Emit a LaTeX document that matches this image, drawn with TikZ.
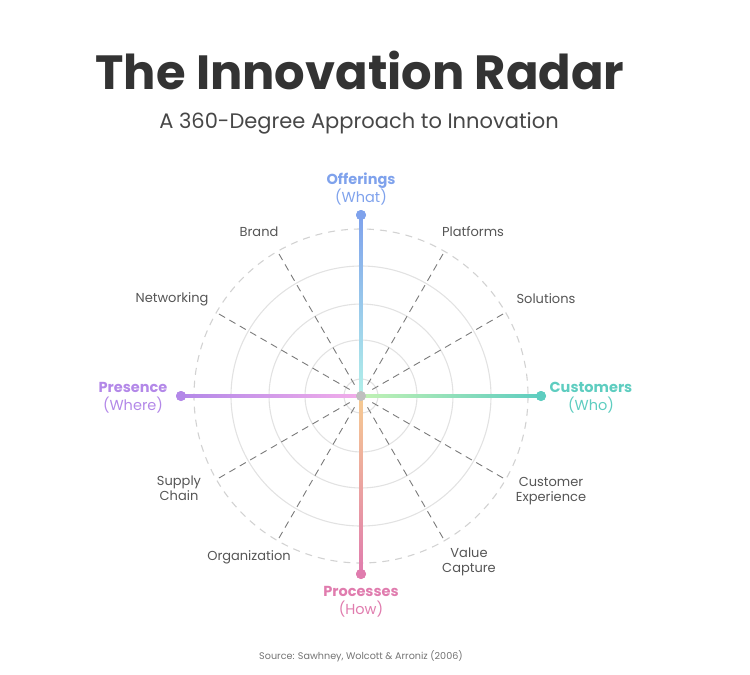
\documentclass[tikz,border=0pt]{standalone}
\usepackage{fontspec}
\setmainfont{Poppins}
\usepackage{xcolor}
\usepackage{tikz}
\usetikzlibrary{calc}

\definecolor{offblue}{HTML}{7FA2EC}
\definecolor{offcyan}{HTML}{B2F0EA}
\definecolor{custeal}{HTML}{5ECDC0}
\definecolor{cusgreen}{HTML}{C2F2B4}
\definecolor{prepurple}{HTML}{B388E8}
\definecolor{prepink}{HTML}{F3AEEA}
\definecolor{propink}{HTML}{E07CAE}
\definecolor{proorange}{HTML}{F6CB92}
\definecolor{ringgray}{HTML}{E2E2E2}
\definecolor{dashgray}{HTML}{D2D2D2}
\definecolor{spokegray}{HTML}{7A7A7A}
\definecolor{labgray}{HTML}{555555}

\begin{document}
\begin{tikzpicture}
[
x=1pt,y=-1pt,
ring/.style={draw=ringgray,line width=1.1pt},
outer ring/.style={draw=dashgray,line width=1.1pt,dash pattern=on 7pt off 6pt},
spoke/.style={draw=spokegray,line width=0.9pt,dash pattern=on 7pt off 5pt},
enddot/.style={circle,fill=#1,inner sep=0pt,minimum size=10pt},
lab/.style={text=labgray,align=center,font=\fontsize{13}{15}\selectfont},
dim/.style={text=#1,align=center,font=\fontsize{14.5}{18}\selectfont},
]
\useasboundingbox (0,0) rectangle (750,675);

%titles
\node[anchor=base,text=black!80,font=\fontsize{48}{56}\bfseries] (title) at (360,89) {The Innovation Radar};
\node[anchor=base,text=black!72,font=\fontsize{21}{26}\selectfont] (sub) at (359,128) {A 360-Degree Approach to Innovation};

%Place the nodes
\coordinate (c) at (361,396);			%centre
\node[enddot=offblue] (o) at (361,215) {};	%offerings
\node[enddot=custeal] (u) at (541,396) {};	%customers
\node[enddot=propink] (r) at (361,574) {};	%processes
\node[enddot=prepurple] (p) at (181,396) {};	%presence

%rings
\foreach \rad in {17,56,92,130}
	\draw[ring] (c) circle[radius=\rad];
\draw[outer ring] (c) circle[radius=167];

%spokes
\foreach \a in {30,60,120,150,210,240,300,330}
	\draw[spoke] ($(c)+(\a:13)$) -- ($(c)+(\a:166)$);

%axes
\shade[top color=offblue,bottom color=offcyan] ($(o.center)+(-1.6,0)$) rectangle ($(c)+(1.6,0)$);
\shade[left color=cusgreen,right color=custeal] ($(c)+(0,-1.6)$) rectangle ($(u.center)+(0,1.6)$);
\shade[top color=proorange,bottom color=propink] ($(c)+(-1.6,0)$) rectangle ($(r.center)+(1.6,0)$);
\shade[left color=prepurple,right color=prepink] ($(p.center)+(0,-1.6)$) rectangle ($(c)+(0,1.6)$);
\node[enddot=offblue] at (o) {};
\node[enddot=custeal] at (u) {};
\node[enddot=propink] at (r) {};
\node[enddot=prepurple] at (p) {};
\node[circle,fill=black!25,inner sep=0pt,minimum size=10pt] (cdot) at (c) {};

%dimensions
\node[dim=offblue] (offl) at (361,189) {\bfseries Offerings\\(What)};
\node[dim=custeal] (cusl) at (591,398) {\bfseries Customers\\(Who)};
\node[dim=propink] (prol) at (361,602) {\bfseries Processes\\(How)};
\node[dim=prepurple] (prel) at (133,398) {\bfseries Presence\\(Where)};

%sub dimensions
\node[lab] (brand) at (259,232) {Brand};
\node[lab] (plat) at (473,232) {Platforms};
\node[lab] (net) at (172,299) {Networking};
\node[lab] (sol) at (546,299) {Solutions};
\node[lab] (supply) at (179,488) {Supply\\Chain};
\node[lab] (custexp) at (551,491) {Customer\\Experience};
\node[lab] (org) at (249,557) {Organization};
\node[lab] (value) at (469,562) {Value\\Capture};

%source
\node[text=black!55,font=\fontsize{9.6}{11}\selectfont] (src) at (361,656) {Source: Sawhney, Wolcott \& Arroniz (2006)};
\end{tikzpicture}
\end{document}
